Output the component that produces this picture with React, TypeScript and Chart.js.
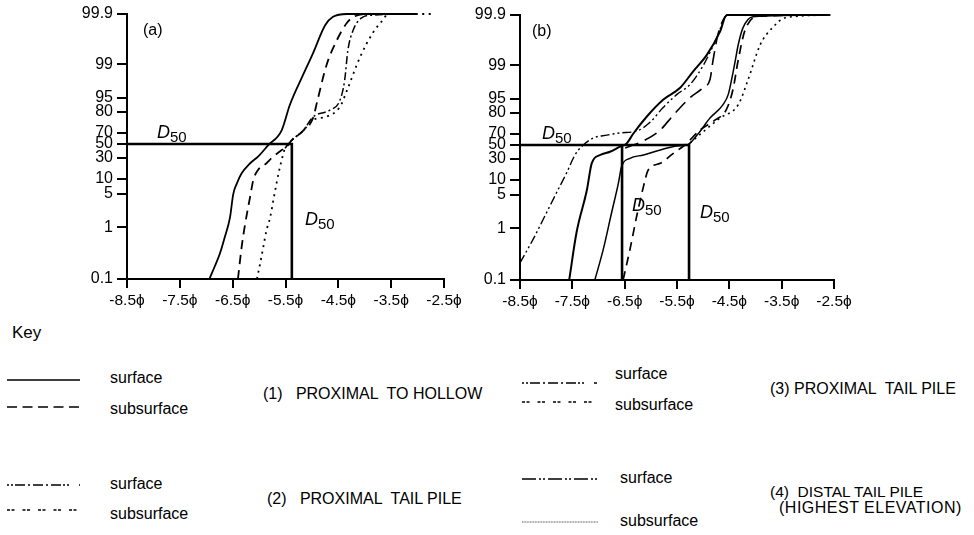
import React, { useEffect, useRef } from 'react';
import { Chart, registerables, LinearScale } from 'chart.js';

Chart.register(...registerables);

// ---- probability-paper axis (cumulative percent) ----
const PCT_TICKS = [0.1, 1, 5, 10, 30, 50, 70, 80, 95, 99, 99.9];
const PCT_TICK_LABELS = ['0.1', '1', '5', '10', '30', '50', '70', '80', '95', '99', '99.9'];
// relative spacing of the printed probability grid (bottom = 0)
const PCT_AXIS_SPACING = [0, 51.5, 85.5, 100, 121, 135, 146, 167, 181.5, 214.5, 265];
// ---- grain size axis (phi) ----
const PHI_TICKS = [-8.5, -7.5, -6.5, -5.5, -4.5, -3.5, -2.5];

// ---- panel (a) ----
const A_SURF1_PHI = [-6.94, -6.83, -6.74, -6.65, -6.55, -6.49, -6.42, -6.33, -6.17, -6.02, -5.83, -5.57, -5.42, -5.17, -4.98, -4.75, -4.6, -4.34, -3.01];
const A_SURF1_PCT = [0.1, 0.34, 0.55, 0.83, 2.2, 4.9, 8.5, 15.4, 25, 32, 48, 71.4, 87, 97.7, 99.2, 99.7, 99.85, 99.9, 99.9];
const A_SUB1_PHI = [-6.4, -6.33, -6.27, -6.17, -6.11, -6.02, -5.86, -5.76, -5.57, -5.49, -5.38, -5.17, -4.98, -4.9, -4.72, -4.53, -4.34, -4.19, -3.9, -3.3];
const A_SUB1_PCT = [0.1, 0.66, 1.2, 4.6, 9.6, 18.6, 25, 30, 41.4, 45, 57, 71, 77, 91, 99.0, 99.43, 99.74, 99.86, 99.9, 99.9];
const A_SURF2_PHI = [-5.51, -5.38, -5.17, -4.98, -4.66, -4.47, -4.38, -4.32, -4.22, -4.06, -3.85, -3.02];
const A_SURF2_PCT = [44, 57, 71, 77.6, 82, 92, 97.1, 99.25, 99.61, 99.83, 99.88, 99.9];
const A_SUB2_PHI = [-6.04, -5.98, -5.92, -5.86, -5.79, -5.73, -5.67, -5.61, -5.54, -5.51, -5.38, -5.17, -4.98, -4.72, -4.47, -4.34, -4.09, -3.85, -3.66, -3.56, -2.71];
const A_SUB2_PCT = [0.1, 0.37, 0.66, 0.95, 2.2, 4.2, 8.5, 20.2, 36.7, 43.8, 57, 71, 76.2, 77.8, 85.3, 95.8, 99.13, 99.56, 99.79, 99.9, 99.9];
const A_D50 = [-5.38];

// ---- panel (b) ----
const B_SURF4_PHI = [-8.5, -8.25, -7.99, -7.8, -7.61, -7.45, -7.31, -7.1, -6.84, -6.59, -6.27, -6.01, -5.77, -5.5, -5.25, -5.0, -4.74, -4.54, -4.2, -2.57];
const B_SURF4_PCT = [0.4, 0.81, 2.9, 5.7, 16.7, 35.7, 48.6, 62.7, 68, 70.5, 71.4, 75.7, 85.4, 95.5, 96.7, 99.0, 99.49, 99.9, 99.9, 99.9];
const B_SOLID1_PHI = [-7.56, -7.42, -7.22, -7.13, -6.97, -6.78, -6.59, -6.46, -6.34, -6.08, -5.76, -5.44, -5.19, -4.93, -4.68, -4.55, -3.91, -2.64];
const B_SOLID1_PCT = [0.1, 0.93, 6.7, 25.9, 35.7, 40.4, 47.6, 53, 70, 78.2, 93.9, 96.3, 98.3, 99.19, 99.6, 99.9, 99.9, 99.9];
const B_SOLID2_PHI = [-7.07, -6.91, -6.75, -6.62, -6.56, -6.4, -6.14, -5.82, -5.5, -5.31, -5.1, -4.87, -4.62, -4.52, -4.45, -4.39, -4.33, -4.24, -4.05, -2.64];
const B_SOLID2_PCT = [0.1, 0.63, 2.85, 8.9, 22.7, 31, 35.7, 42.9, 48.6, 50, 70, 77.6, 88.6, 95.5, 97.5, 99.07, 99.37, 99.67, 99.87, 99.9];
const B_DASH_PHI = [-6.53, -6.4, -6.27, -6.14, -6.05, -5.82, -5.57, -5.35, -5.06, -4.77, -4.56, -4.43, -4.33, -4.2, -3.91, -2.57];
const B_DASH_PCT = [0.1, 0.63, 2.45, 7.8, 19.5, 25.9, 38.1, 50, 71.9, 76.7, 83.2, 96.1, 99.1, 99.63, 99.88, 99.9];
const B_LONG_PHI = [-6.49, -6.11, -5.82, -5.57, -5.25, -5.0, -4.87, -4.81, -4.71, -4.52, -2.57];
const B_LONG_PCT = [45.7, 59, 71.9, 79, 95.1, 96.3, 97.3, 99.1, 99.58, 99.9, 99.9];
const B_DOT_PHI = [-5.25, -4.96, -4.68, -4.33, -4.14, -3.91, -3.68, -3.43, -2.57];
const B_DOT_PCT = [53.6, 71.9, 77.6, 88.6, 97.3, 99.37, 99.67, 99.85, 99.9];
const B_D50 = [-6.55, -5.27];

const FONT = '"Liberation Sans", Arial, Helvetica, sans-serif';

function pctToUnit(p: number): number {
  const n = PCT_TICKS.length;
  let i = 0;
  if (p >= PCT_TICKS[n - 1]) i = n - 2;
  else if (p > PCT_TICKS[0]) {
    while (i < n - 2 && p > PCT_TICKS[i + 1]) i++;
  }
  const t = (p - PCT_TICKS[i]) / (PCT_TICKS[i + 1] - PCT_TICKS[i]);
  const pos = PCT_AXIS_SPACING[i] + t * (PCT_AXIS_SPACING[i + 1] - PCT_AXIS_SPACING[i]);
  return pos / PCT_AXIS_SPACING[n - 1];
}

function unitToPct(u: number): number {
  const n = PCT_TICKS.length;
  const pos = u * PCT_AXIS_SPACING[n - 1];
  let i = 0;
  if (pos >= PCT_AXIS_SPACING[n - 1]) i = n - 2;
  else if (pos > 0) {
    while (i < n - 2 && pos > PCT_AXIS_SPACING[i + 1]) i++;
  }
  const t = (pos - PCT_AXIS_SPACING[i]) / (PCT_AXIS_SPACING[i + 1] - PCT_AXIS_SPACING[i]);
  return PCT_TICKS[i] + t * (PCT_TICKS[i + 1] - PCT_TICKS[i]);
}

class ProbabilityScale extends LinearScale {
  static id = 'probability';
  static defaults = LinearScale.defaults;
  getPixelForValue(value: number) {
    return this.getPixelForDecimal(pctToUnit(value));
  }
  getValueForPixel(pixel: number) {
    return unitToPct(this.getDecimalForPixel(pixel));
  }
}
Chart.register(ProbabilityScale as any);

type Series = { phi: number[]; pct: number[]; dash: number[]; width: number; color?: string };

function pts(phi: number[], pct: number[]) {
  return phi.map((x, i) => ({ x, y: pct[i] }));
}

function buildDatasets(series: Series[], d50: number[]) {
  const ds: any[] = series.map((s) => ({
    data: pts(s.phi, s.pct),
    borderColor: s.color || '#000',
    borderWidth: s.width,
    borderDash: s.dash,
    pointRadius: 0,
    cubicInterpolationMode: 'monotone',
    fill: false,
    clip: 6,
  }));
  const last = d50[d50.length - 1];
  ds.push({
    data: [{ x: PHI_TICKS[0], y: 50 }, { x: last, y: 50 }, { x: last, y: PCT_TICKS[0] }],
    borderColor: '#000', borderWidth: 2.6, pointRadius: 0, tension: 0, fill: false,
  });
  d50.slice(0, -1).forEach((v) => {
    ds.push({
      data: [{ x: v, y: 50 }, { x: v, y: PCT_TICKS[0] }],
      borderColor: '#000', borderWidth: 2.6, pointRadius: 0, tension: 0, fill: false,
    });
  });
  return ds;
}

function makeOptions(padLeft: number, padTop: number, padRight: number, xHeight: number) {
  return {
    responsive: false,
    animation: false,
    events: [],
    layout: { padding: { left: padLeft, top: padTop, right: padRight, bottom: 0 } },
    plugins: { legend: { display: false }, tooltip: { enabled: false } },
    scales: {
      x: {
        type: 'linear',
        min: PHI_TICKS[0],
        max: PHI_TICKS[PHI_TICKS.length - 1],
        afterBuildTicks: (s: any) => { s.ticks = PHI_TICKS.map((v) => ({ value: v })); },
        afterFit: (s: any) => { s.height = xHeight; },
        ticks: {
          autoSkip: false, maxRotation: 0, minRotation: 0, padding: 3, color: '#000',
          font: { family: FONT, size: 15.5 },
          callback: (v: number) => `${v}ϕ`,
        },
        grid: { drawOnChartArea: false, drawTicks: true, tickLength: 9, color: '#000', lineWidth: 2 },
        border: { display: true, color: '#000', width: 2 },
      },
      y: {
        type: 'probability',
        min: PCT_TICKS[0],
        max: PCT_TICKS[PCT_TICKS.length - 1],
        afterBuildTicks: (s: any) => { s.ticks = PCT_TICKS.map((v) => ({ value: v })); },
        afterFit: (s: any) => { s.width = 50; },
        ticks: {
          autoSkip: false, padding: 4, color: '#000',
          font: { family: FONT, size: 16 },
          callback: (_v: number, i: number) => PCT_TICK_LABELS[i],
        },
        grid: { drawOnChartArea: false, drawTicks: true, tickLength: 10, color: '#000', lineWidth: 2 },
        border: { display: true, color: '#000', width: 2 },
      },
    },
  };
}

function Panel(props: { series: Series[]; d50: number[]; left: number; width: number; height: number; pad: number[]; xHeight: number }) {
  const ref = useRef<HTMLCanvasElement | null>(null);
  useEffect(() => {
    if (!ref.current) return;
    const chart = new Chart(ref.current, {
      type: 'line',
      data: { datasets: buildDatasets(props.series, props.d50) },
      options: makeOptions(props.pad[0], props.pad[1], props.pad[2], props.xHeight) as any,
    });
    return () => chart.destroy();
  }, []);
  return (
    <canvas
      ref={ref}
      width={props.width}
      height={props.height}
      style={{ position: 'absolute', left: props.left, top: 0, width: props.width, height: props.height, display: 'block' }}
    />
  );
}

const SERIES_A: Series[] = [
  { phi: A_SURF1_PHI, pct: A_SURF1_PCT, dash: [], width: 1.8 },
  { phi: A_SUB1_PHI, pct: A_SUB1_PCT, dash: [9, 6], width: 1.8 },
  { phi: A_SURF2_PHI, pct: A_SURF2_PCT, dash: [8, 3, 2, 3], width: 1.5 },
  { phi: A_SUB2_PHI, pct: A_SUB2_PCT, dash: [2, 4.5], width: 1.8 },
];

const SERIES_B: Series[] = [
  { phi: B_SURF4_PHI, pct: B_SURF4_PCT, dash: [9, 3, 2, 3, 2, 3], width: 1.4 },
  { phi: B_SOLID1_PHI, pct: B_SOLID1_PCT, dash: [], width: 2 },
  { phi: B_SOLID2_PHI, pct: B_SOLID2_PCT, dash: [], width: 1.5 },
  { phi: B_DASH_PHI, pct: B_DASH_PCT, dash: [9, 6], width: 1.7 },
  { phi: B_LONG_PHI, pct: B_LONG_PCT, dash: [14, 7], width: 1.6 },
  { phi: B_DOT_PHI, pct: B_DOT_PCT, dash: [2, 4], width: 1.6 },
];

function Txt(props: { x: number; y: number; size: number; children: any; ls?: number }) {
  return (
    <div style={{ position: 'absolute', left: props.x, top: props.y, fontSize: props.size, lineHeight: 1, whiteSpace: 'pre', letterSpacing: props.ls || 0 }}>
      {props.children}
    </div>
  );
}

function D50(props: { x: number; y: number }) {
  return (
    <div style={{ position: 'absolute', left: props.x, top: props.y, lineHeight: 1, whiteSpace: 'pre' }}>
      <span style={{ fontStyle: 'italic', fontSize: 18 }}>D</span>
      <span style={{ fontSize: 15, position: 'relative', top: 4 }}>50</span>
    </div>
  );
}

function Sample(props: { x: number; y: number; w: number; dash: string; width?: number; color?: string }) {
  return (
    <svg style={{ position: 'absolute', left: props.x, top: props.y - 4 }} width={props.w} height={8}>
      <line x1={0} y1={4} x2={props.w} y2={4} stroke={props.color || '#000'} strokeWidth={props.width || 1.5} strokeDasharray={props.dash} />
    </svg>
  );
}

export default function App() {
  return (
    <div style={{ position: 'absolute', left: 0, top: 0, width: 974, height: 535, background: '#fff', color: '#000', fontFamily: FONT, overflow: 'hidden' }}>
      <Panel series={SERIES_A} d50={A_D50} left={0} width={470} height={310} pad={[77, 14, 26]} xHeight={31} />
      <Panel series={SERIES_B} d50={B_D50} left={470} width={400} height={320} pad={[0, 15, 36]} xHeight={40} />

      <Txt x={143} y={22} size={16}>(a)</Txt>
      <Txt x={532} y={23} size={16}>(b)</Txt>
      <D50 x={157} y={123} />
      <D50 x={305} y={210} />
      <D50 x={542} y={124} />
      <D50 x={632} y={196} />
      <D50 x={700} y={203} />

      <Txt x={12} y={324} size={17}>Key</Txt>

      <Sample x={7} y={380} w={73} dash="" />
      <Txt x={110} y={370} size={16}>surface</Txt>
      <Sample x={7} y={407} w={73} dash="10 5.5" />
      <Txt x={110} y={401} size={16}>subsurface</Txt>
      <Txt x={263} y={386} size={16}>{'(1)   PROXIMAL  TO HOLLOW'}</Txt>

      <Sample x={7} y={485} w={73} dash="2 2 2 2 10 3 2 3 10 3 2 3 10" />
      <Txt x={110} y={476} size={16}>surface</Txt>
      <Sample x={7} y={510} w={73} dash="3 1.5 3 8" width={1.3} />
      <Txt x={110} y={506} size={16}>subsurface</Txt>
      <Txt x={267} y={491} size={16}>{'(2)   PROXIMAL  TAIL PILE'}</Txt>

      <Sample x={522} y={383} w={76} dash="2 2 2 2 10 3 2 3 10 3 2 3 10" />
      <Txt x={615} y={366} size={16}>surface</Txt>
      <Sample x={522} y={402} w={76} dash="3 1.5 3 8" width={1.3} />
      <Txt x={615} y={397} size={16}>subsurface</Txt>
      <Txt x={770} y={381} size={16}>{'(3) PROXIMAL  TAIL PILE'}</Txt>

      <Sample x={522} y={479} w={76} dash="14 3 2 2 2 3" />
      <Txt x={620} y={470} size={16}>surface</Txt>
      <Sample x={522} y={522} w={76} dash="1 0.6" width={1} color="#555" />
      <Txt x={620} y={513} size={16}>subsurface</Txt>
      <Txt x={770} y={484} size={15.5}>{'(4)  DISTAL TAIL PILE'}</Txt>
      <Txt x={779} y={500} size={16} ls={0.5}>{'(HIGHEST ELEVATION)'}</Txt>
    </div>
  );
}
